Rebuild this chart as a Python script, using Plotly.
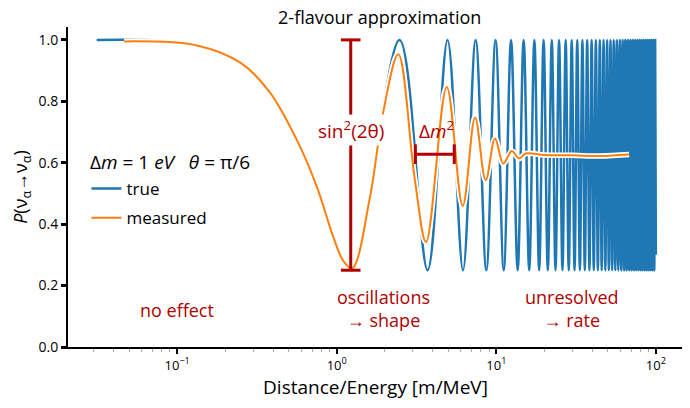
import plotly.graph_objects as go

# --- data ---
# smooth start of the "true" curve (before the first minimum)
true_start_x = [0.0313, 0.133, 0.25, 0.38, 0.565, 0.753, 0.952]
true_start_y = [1.0, 0.985, 0.927, 0.835, 0.673, 0.52, 0.36]

# positions of the oscillation minima and maxima of the "true" curve
trough_x = [1.237, 3.711, 6.185, 8.659, 11.13, 13.61, 16.08, 18.56, 21.03, 23.50,
            25.98, 28.45, 30.93, 33.40, 35.87, 38.35, 40.82, 43.30, 45.77, 48.24,
            50.72, 53.19, 55.67, 58.14, 60.61, 63.09, 65.56, 68.04, 70.51, 72.98,
            75.46, 77.93, 80.41, 82.88, 85.35, 87.83, 90.30, 92.78, 95.25, 97.72]
peak_x = [2.474, 4.948, 7.422, 9.896, 12.37, 14.84, 17.32, 19.79, 22.27, 24.74,
          27.21, 29.69, 32.16, 34.64, 37.11, 39.58, 42.06, 44.53, 47.01, 49.48,
          51.95, 54.43, 56.90, 59.38, 61.85, 64.32, 66.80, 69.27, 71.75, 74.22,
          76.69, 79.17, 81.64, 84.12, 86.59, 89.06, 91.54, 94.01, 96.49, 98.96]
trough_y = 0.25
peak_y = 1.0
true_end = (100.0, 0.30)

# "measured" (smeared) curve
meas_x = [0.0465, 0.133, 0.25, 0.38, 0.565, 0.753, 0.952, 1.1, 1.25, 1.617, 1.95,
          2.43, 3.09, 3.63, 4.89, 6.16, 7.36, 8.58, 9.82, 11.07, 12.5, 13.9,
          15.3, 20.0, 30.0, 45.0, 68.0]
meas_y = [0.995, 0.982, 0.925, 0.83, 0.672, 0.52, 0.358, 0.28, 0.256, 0.489, 0.761,
          0.953, 0.543, 0.342, 0.847, 0.459, 0.747, 0.543, 0.679, 0.597, 0.638, 0.614,
          0.63, 0.625, 0.624, 0.622, 0.627]

# annotation bars: sin^2(2theta) amplitude and Delta m^2 period
amp_x = [1.224, 1.224]
amp_y = [0.25, 1.0]
period_x = [3.11, 5.45]
period_y = [0.628, 0.628]

x_tickvals = [0.1, 1, 10, 100]
x_ticktext = ["10<sup>−1</sup>", "10<sup>0</sup>", "10<sup>1</sup>", "10<sup>2</sup>"]
x_minor = [0.03, 0.04, 0.05, 0.06, 0.07, 0.08, 0.09,
           0.2, 0.3, 0.4, 0.5, 0.6, 0.7, 0.8, 0.9,
           2, 3, 4, 5, 6, 7, 8, 9,
           20, 30, 40, 50, 60, 70, 80, 90]
y_tickvals = [0.0, 0.2, 0.4, 0.6, 0.8, 1.0]

# --- build the true curve from start + alternating extrema ---
true_x = list(true_start_x)
true_y = list(true_start_y)
for t, p in zip(trough_x, peak_x):
    true_x += [t, p]
    true_y += [trough_y, peak_y]
true_x.append(true_end[0])
true_y.append(true_end[1])

RED = "#b00000"
FONT = "Open Sans"

fig = go.Figure()

fig.add_trace(go.Scatter(
    x=true_x, y=true_y, mode="lines", name="true", legendgroup="a",
    line=dict(color="#1f77b4", width=2.5, shape="spline", smoothing=1.0),
))

# white outline behind the measured curve
fig.add_trace(go.Scatter(
    x=meas_x, y=meas_y, mode="lines", showlegend=False, hoverinfo="skip",
    line=dict(color="white", width=5.5, shape="spline", smoothing=1.0),
))
fig.add_trace(go.Scatter(
    x=meas_x, y=meas_y, mode="lines", name="measured", legendgroup="b",
    line=dict(color="#ff7f0e", width=2, shape="spline", smoothing=1.0),
))

# amplitude bar
fig.add_trace(go.Scatter(
    x=amp_x, y=amp_y, mode="lines+markers", showlegend=False, hoverinfo="skip",
    line=dict(color=RED, width=3),
    marker=dict(symbol="line-ew", size=14, line=dict(color=RED, width=3)),
))
# period bar
fig.add_trace(go.Scatter(
    x=period_x, y=period_y, mode="lines+markers", showlegend=False, hoverinfo="skip",
    line=dict(color=RED, width=3),
    marker=dict(symbol="line-ns", size=14, line=dict(color=RED, width=3)),
))

fig.add_annotation(x=0.0875, y=0.706, xref="x", yref="y", text="sin<sup>2</sup>(2θ)",
                   showarrow=False, bgcolor="white", font=dict(size=19, color=RED, family=FONT))
fig.add_annotation(x=0.628, y=0.706, xref="x", yref="y", text="Δ<i>m</i><sup>2</sup>",
                   showarrow=False, font=dict(size=19, color=RED, family=FONT))

fig.add_annotation(x=-1.0, y=0.119, xref="x", yref="y", text="no effect",
                   showarrow=False, font=dict(size=18, color=RED, family=FONT))
fig.add_annotation(x=0.296, y=0.125, xref="x", yref="y", text="oscillations<br>→ shape",
                   showarrow=False, font=dict(size=18, color=RED, family=FONT))
fig.add_annotation(x=1.474, y=0.125, xref="x", yref="y", text="unresolved<br>→ rate",
                   showarrow=False, font=dict(size=18, color=RED, family=FONT))

# legend title drawn as its own text so the entries can be spaced freely
fig.add_annotation(x=0.033, y=0.578, xref="paper", yref="paper", xanchor="left",
                   yanchor="middle", showarrow=False,
                   text="Δ<i>m</i> = 1 <i>eV</i>   <i>θ</i> = π/6",
                   font=dict(size=19, family=FONT, color="black"))

# the page body adds an 8px offset, so the figure is 8px smaller than the window
fig.update_layout(
    width=682, height=400,
    margin=dict(l=60, r=7, t=19, b=61),
    plot_bgcolor="white", paper_bgcolor="white",
    font=dict(family=FONT, color="black", size=13),
    title=dict(text="2-flavour approximation", x=0.545, xanchor="center",
               yref="container", y=1.0, yanchor="top", pad=dict(t=3),
               font=dict(size=18)),
    showlegend=True,
    legend=dict(
        x=0.03, y=0.55, xanchor="left", yanchor="top",
        traceorder="grouped", tracegroupgap=4,
        bgcolor="rgba(0,0,0,0)", font=dict(size=17),
    ),
)

fig.update_xaxes(
    type="log", range=[-1.684, 2.17], automargin=False,
    tickvals=x_tickvals, ticktext=x_ticktext,
    ticks="outside", ticklen=5, tickwidth=2, tickcolor="black",
    showline=True, linecolor="black", linewidth=2, showgrid=False, zeroline=False,
    minor=dict(ticks="outside", ticklen=3, tickwidth=1, tickcolor="#aaaaaa",
               tickvals=x_minor),
    title=dict(text="Distance/Energy [m/MeV]", font=dict(size=19), standoff=4),
    tickfont=dict(size=13),
)
fig.update_yaxes(
    range=[0, 1.042], automargin=False,
    tickvals=y_tickvals, tickformat=".1f",
    ticks="outside", ticklen=5, tickwidth=3, tickcolor="black",
    showline=True, linecolor="black", linewidth=2, showgrid=False, zeroline=False,
    title=dict(text="<i>P</i>(ν<sub>α</sub>→ν<sub>α</sub>)", font=dict(size=18), standoff=6),
    tickfont=dict(size=14),
)

fig.write_html("out.html")
